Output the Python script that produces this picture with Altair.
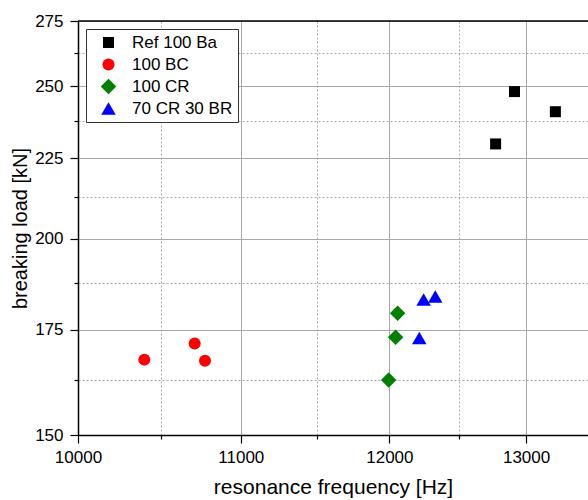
import altair as alt
import pandas as pd

# ---- data ----
series = ["Ref 100 Ba", "100 BC", "100 CR", "70 CR 30 BR"]
ref_x = [12770, 12912, 13225]
ref_y = [229.7, 248.0, 240.8]
bc_x = [10396, 10707, 10772]
bc_y = [167.5, 171.5, 167.2]
cr_x = [11995, 12044, 12058]
cr_y = [162.6, 173.1, 179.3]
br_x = [12212, 12243, 12327]
br_y = [172.9, 182.9, 183.7]

colors = ["#000000", "#ff0000", "#008000", "#0000ff"]
shapes = ["square", "circle", "diamond", "triangle-up"]
sizes = [121, 144, 240, 210]

x_ticks = [10000, 10500, 11000, 11500, 12000, 12500, 13000]
y_ticks = [150, 162.5, 175, 187.5, 200, 212.5, 225, 237.5, 250, 262.5, 275]
x_domain = [10000, 13480]
y_domain = [150, 275]

rows = []
for name, xs, ys in zip(series, [ref_x, bc_x, cr_x, br_x], [ref_y, bc_y, cr_y, br_y]):
    for a, b in zip(xs, ys):
        rows.append({"series": name, "freq": a, "load": b})
df = pd.DataFrame(rows)

W, H = 510, 414
FONT = "Liberation Sans"
GRID = "#a8a8a8"

legend = alt.Legend(
    title=None, orient="none", legendX=8, legendY=8,
    strokeColor="#333333", fillColor="white", padding=5,
    symbolOffset=9, labelOffset=15, rowPadding=4,
    labelFont=FONT, labelFontSize=17, labelColor="black",
    symbolStrokeWidth=0, symbolOpacity=1,
)

x_axis = alt.Axis(
    values=x_ticks,
    labelExpr="datum.value % 1000 == 0 ? format(datum.value, 'd') : ''",
    labelOverlap=False, labelFlush=False,
    labelFont=FONT, labelFontSize=17, labelColor="black", labelPadding=6,
    tickSize={"condition": {"test": "datum.value % 1000 != 0", "value": 4}, "value": 8},
    tickColor="black", tickWidth=1.2,
    domainColor="black", domainWidth=1.5,
    grid=True, gridColor=GRID, gridWidth=1,
    gridDash={"condition": {"test": "datum.value % 1000 != 0", "value": [2, 2]}, "value": []},
    title="resonance frequency [Hz]", titleFont=FONT, titleFontSize=21,
    titleFontWeight="normal", titleColor="black", titlePadding=11,
)

y_axis = alt.Axis(
    values=y_ticks,
    labelExpr="datum.value % 25 == 0 ? format(datum.value, 'd') : ''",
    labelOverlap=False, labelFlush=False,
    labelFont=FONT, labelFontSize=17, labelColor="black", labelPadding=7,
    tickSize={"condition": {"test": "datum.value % 25 != 0", "value": 4}, "value": 8},
    tickColor="black", tickWidth=1.2,
    domainColor="black", domainWidth=1.5,
    grid=True, gridColor=GRID, gridWidth=1,
    gridDash={"condition": {"test": "datum.value % 25 != 0", "value": [2, 2]}, "value": []},
    title="breaking load [kN]", titleFont=FONT, titleFontSize=20,
    titleFontWeight="normal", titleColor="black", titlePadding=4,
)

points = alt.Chart(df).mark_point(filled=True, opacity=1, strokeWidth=0).encode(
    x=alt.X("freq:Q", scale=alt.Scale(type="log", domain=x_domain, nice=False, zero=False), axis=x_axis),
    y=alt.Y("load:Q", scale=alt.Scale(type="log", domain=y_domain, nice=False, zero=False), axis=y_axis),
    color=alt.Color("series:N", scale=alt.Scale(domain=series, range=colors), legend=legend),
    shape=alt.Shape("series:N", scale=alt.Scale(domain=series, range=shapes), legend=legend),
    size=alt.Size("series:N", scale=alt.Scale(type="ordinal", domain=series, range=sizes), legend=legend),
)

top_border = alt.Chart(pd.DataFrame({"k": [0]})).mark_rule(color="black", strokeWidth=1.5).encode(
    x=alt.value(0), x2=alt.value(W), y=alt.value(0)
)

chart = alt.layer(points, top_border).properties(
    width=W, height=H,
    autosize=alt.AutoSizeParams(type="none"),
    padding={"left": 78, "top": 21, "right": 0, "bottom": 65},
    background="white",
).configure_view(stroke=None).configure(font=FONT)

chart.save("out.html", embed_options={"renderer": "svg", "actions": False})
